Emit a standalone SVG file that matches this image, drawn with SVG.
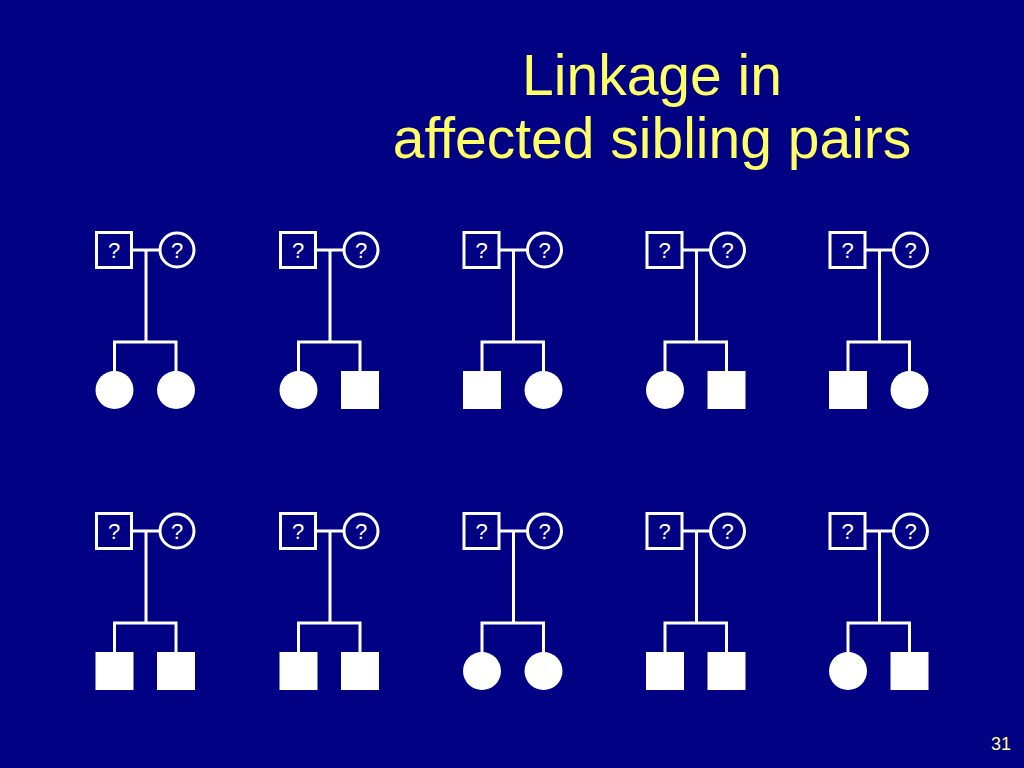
<svg xmlns="http://www.w3.org/2000/svg" xmlns:xlink="http://www.w3.org/1999/xlink" width="1024" height="768" viewBox="0 0 1024 768">
<style>
.bg{fill:#010183}
.title{font-family:"Liberation Sans",Arial,sans-serif;font-size:57px;fill:#FFFF66;text-anchor:middle}
.pg{font-family:"Liberation Sans",Arial,sans-serif;font-size:18px;fill:#FFFF99}
.par{fill:none;stroke:#FFFFFF;stroke-width:3}
.q{font-family:"Liberation Sans",Arial,sans-serif;font-size:22px;fill:#FFFFFF;text-anchor:middle}
.ln{fill:none;stroke:#FFFFFF;stroke-width:3}
.aff{fill:#FFFFFF}
</style>
<defs>
<g id="parents">
<rect class="par" x="1.5" y="1.5" width="35" height="35"/>
<text class="q" x="19" y="27">?</text>
<circle class="par" cx="82" cy="19" r="17"/>
<text class="q" x="82" y="27">?</text>
</g>
<g id="lines">
<path class="ln" d="M37,19 H65 M51,19 V111 M19.5,111 H81 M19.5,109.5 V141 M81,109.5 V141"/>
</g>
<circle id="cF" class="aff" cx="0" cy="159" r="19"/>
<rect id="cM" class="aff" x="-19" y="140" width="38" height="38"/>
</defs>
<rect class="bg" x="0" y="0" width="1024" height="768"/>
<text class="title" x="652" y="95">Linkage in</text>
<text class="title" x="652" y="158">affected sibling pairs</text>
<text class="pg" x="991" y="750">31</text>

<g id="ped-r1c1" transform="translate(95,231)">
<g class="connectors"><use xlink:href="#lines"/></g>
<g id="r1c1-parents"><use xlink:href="#parents"/></g>
<g id="r1c1-child1"><use xlink:href="#cF" x="19.5"/></g>
<g id="r1c1-child2"><use xlink:href="#cF" x="81"/></g>
</g>
<g id="ped-r1c2" transform="translate(279,231)">
<g class="connectors"><use xlink:href="#lines"/></g>
<g id="r1c2-parents"><use xlink:href="#parents"/></g>
<g id="r1c2-child1"><use xlink:href="#cF" x="19.5"/></g>
<g id="r1c2-child2"><use xlink:href="#cM" x="81"/></g>
</g>
<g id="ped-r1c3" transform="translate(462.5,231)">
<g class="connectors"><use xlink:href="#lines"/></g>
<g id="r1c3-parents"><use xlink:href="#parents"/></g>
<g id="r1c3-child1"><use xlink:href="#cM" x="19.5"/></g>
<g id="r1c3-child2"><use xlink:href="#cF" x="81"/></g>
</g>
<g id="ped-r1c4" transform="translate(645.5,231)">
<g class="connectors"><use xlink:href="#lines"/></g>
<g id="r1c4-parents"><use xlink:href="#parents"/></g>
<g id="r1c4-child1"><use xlink:href="#cF" x="19.5"/></g>
<g id="r1c4-child2"><use xlink:href="#cM" x="81"/></g>
</g>
<g id="ped-r1c5" transform="translate(828.5,231)">
<g class="connectors"><use xlink:href="#lines"/></g>
<g id="r1c5-parents"><use xlink:href="#parents"/></g>
<g id="r1c5-child1"><use xlink:href="#cM" x="19.5"/></g>
<g id="r1c5-child2"><use xlink:href="#cF" x="81"/></g>
</g>

<g id="ped-r2c1" transform="translate(95,512)">
<g class="connectors"><use xlink:href="#lines"/></g>
<g id="r2c1-parents"><use xlink:href="#parents"/></g>
<g id="r2c1-child1"><use xlink:href="#cM" x="19.5"/></g>
<g id="r2c1-child2"><use xlink:href="#cM" x="81"/></g>
</g>
<g id="ped-r2c2" transform="translate(279,512)">
<g class="connectors"><use xlink:href="#lines"/></g>
<g id="r2c2-parents"><use xlink:href="#parents"/></g>
<g id="r2c2-child1"><use xlink:href="#cM" x="19.5"/></g>
<g id="r2c2-child2"><use xlink:href="#cM" x="81"/></g>
</g>
<g id="ped-r2c3" transform="translate(462.5,512)">
<g class="connectors"><use xlink:href="#lines"/></g>
<g id="r2c3-parents"><use xlink:href="#parents"/></g>
<g id="r2c3-child1"><use xlink:href="#cF" x="19.5"/></g>
<g id="r2c3-child2"><use xlink:href="#cF" x="81"/></g>
</g>
<g id="ped-r2c4" transform="translate(645.5,512)">
<g class="connectors"><use xlink:href="#lines"/></g>
<g id="r2c4-parents"><use xlink:href="#parents"/></g>
<g id="r2c4-child1"><use xlink:href="#cM" x="19.5"/></g>
<g id="r2c4-child2"><use xlink:href="#cM" x="81"/></g>
</g>
<g id="ped-r2c5" transform="translate(828.5,512)">
<g class="connectors"><use xlink:href="#lines"/></g>
<g id="r2c5-parents"><use xlink:href="#parents"/></g>
<g id="r2c5-child1"><use xlink:href="#cF" x="19.5"/></g>
<g id="r2c5-child2"><use xlink:href="#cM" x="81"/></g>
</g>
</svg>
